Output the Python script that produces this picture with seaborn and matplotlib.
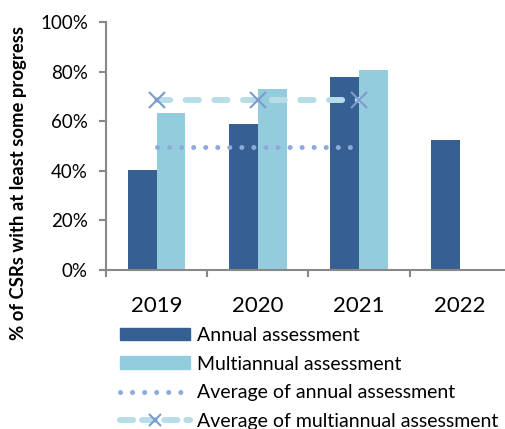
import pandas as pd
import numpy as np
import matplotlib.pyplot as plt
import seaborn as sns
from matplotlib.patches import Patch
from matplotlib.lines import Line2D
from matplotlib.ticker import PercentFormatter

years = ["2019", "2020", "2021", "2022"]
annual = [40.3, 59.0, 77.9, 52.3]
multiannual = [63.3, 73.1, 80.6, np.nan]
avg_years = ["2019", "2020", "2021"]
avg_annual = [49.8, 49.8, 49.8]
avg_multi = [68.4, 68.4, 68.4]

c_annual = "#376092"
c_multi = "#93CDDD"
c_avg_annual = "#8EA9DB"
c_avg_multi = "#B7DEE8"
c_marker = "#7D9BCF"

sns.set_style("white")
plt.rcParams["font.family"] = ["Lato", "DejaVu Sans"]
plt.rcParams["text.color"] = "black"
plt.rcParams["xtick.labelcolor"] = "black"
plt.rcParams["ytick.labelcolor"] = "black"

df = pd.DataFrame({
    "year": years * 2,
    "type": ["Annual assessment"] * 4 + ["Multiannual assessment"] * 4,
    "value": annual + multiannual,
})

fig = plt.figure(figsize=(5.06, 4.29), dpi=100)
ax = fig.add_axes([0.2095, 0.3706, 0.79, 0.578])

sns.barplot(data=df, x="year", y="value", hue="type",
            palette=[c_annual, c_multi], width=0.57, gap=0,
            saturation=1, linewidth=0, legend=False, ax=ax)

xpos = [years.index(y) for y in avg_years]
ax.plot(xpos, avg_annual, color=c_avg_annual, lw=3.6,
        linestyle=(0, (0.01, 2.4)), dash_capstyle="round")
ax.plot(xpos, avg_multi, color=c_avg_multi, lw=4.3,
        linestyle=(0, (2.2, 2.6)), dash_capstyle="round")
ax.plot(xpos, avg_multi, linestyle="none", marker="x", ms=11, mew=1.5,
        color=c_marker)

ax.set_ylim(0, 100)
ax.set_xlim(-0.5, 3.45)
ax.set_yticks(range(0, 101, 20))
ax.yaxis.set_major_formatter(PercentFormatter(decimals=0))
ax.set_xticks([-0.5, 0.5, 1.5, 2.5], minor=True)
ax.tick_params(axis="x", which="major", length=0, pad=19, labelsize=16)
ax.tick_params(axis="x", which="minor", length=5, width=1.5, color="#888888", bottom=True)
ax.tick_params(axis="y", length=5, width=1.5, color="#888888", left=True,
               labelsize=13.5, pad=8)
ax.set_xlabel("")
ax.set_ylabel("")
sns.despine(ax=ax)
for s in ["left", "bottom"]:
    ax.spines[s].set_color("#888888")
    ax.spines[s].set_linewidth(1.5)

fig.text(0.036, 0.573, "% of CSRs with at least some progress", rotation=90,
         ha="center", va="center", fontsize=13.3, fontweight="bold")

handles = [
    Patch(color=c_annual),
    Patch(color=c_multi),
    Line2D([], [], color=c_avg_annual, lw=3.6, linestyle=(0, (0.01, 2.4)),
           dash_capstyle="round"),
    Line2D([], [], color=c_avg_multi, lw=4.3, linestyle=(0, (2.2, 1.5)),
           dash_capstyle="round", marker="x", ms=9, mew=1.5,
           markeredgecolor=c_marker),
]
labels = ["Annual assessment", "Multiannual assessment",
          "Average of annual assessment", "Average of multiannual assessment"]
fig.legend(handles, labels, loc="lower left", bbox_to_anchor=(0.237, -0.002),
           frameon=False, fontsize=14, handlelength=3.6, handleheight=0.6,
           handletextpad=0.36, labelspacing=0.6, borderpad=0,
           borderaxespad=0)

fig.savefig("out.png", dpi=100)
